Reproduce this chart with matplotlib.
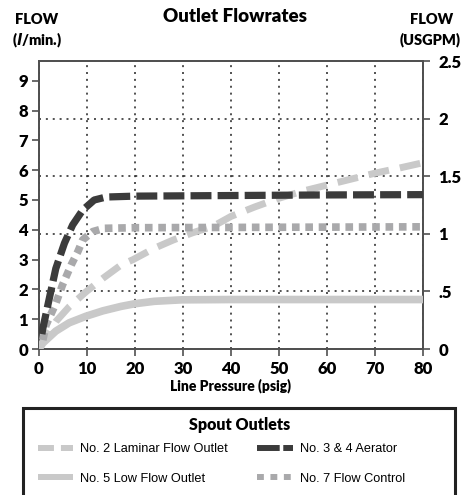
#!/usr/bin/env python
"""Outlet flowrates chart: flow vs line pressure for four spout outlets."""
import matplotlib

matplotlib.use("Agg")
import matplotlib.pyplot as plt
from matplotlib.lines import Line2D
from matplotlib.patches import Rectangle

# --- data ---
lam_psi = [0, 0.8, 3.5, 6.3, 9.8, 13.3, 17.1, 19.6, 24, 28, 32, 36.3, 40, 45, 50, 55, 60, 65, 70, 75, 80]
lam_flow = [0, 0.25, 0.92, 1.42, 1.92, 2.37, 2.82, 3.0, 3.38, 3.66, 3.9, 4.12, 4.45, 4.77, 5.06, 5.3, 5.5, 5.7, 5.9, 6.07, 6.25]

aer_psi = [0.6, 0.8, 2.15, 3.5, 5.3, 7.0, 9.1, 11.5, 14, 20, 40, 60, 80]
aer_flow = [0.5, 0.69, 1.7, 2.7, 3.55, 4.16, 4.66, 5.0, 5.1, 5.13, 5.15, 5.17, 5.18]

low_psi = [0, 0.8, 3.5, 6.3, 9.8, 13.3, 17.1, 20, 24, 29.7, 40, 60, 80]
low_flow = [0, 0.2, 0.6, 0.88, 1.1, 1.28, 1.43, 1.52, 1.6, 1.65, 1.66, 1.66, 1.66]

fc_psi = [0.8, 1.46, 3.5, 4.9, 6.7, 8.1, 9.1, 11.2, 13.6, 20, 40, 60, 80]
fc_flow = [0.3, 0.8, 1.53, 2.15, 2.82, 3.27, 3.66, 3.94, 4.05, 4.07, 4.08, 4.09, 4.1]

lmin_ticks = list(range(0, 10))
gpm_ticks = [0, 0.5, 1, 1.5, 2, 2.5]
gpm_labels = ["0", ".5", "1", "1.5", "2", "2.5"]
psi_ticks = list(range(0, 81, 10))

labels = ["No. 2 Laminar Flow Outlet", "No. 3 & 4 Aerator",
          "No. 5 Low Flow Outlet", "No. 7 Flow Control"]

DARK = "#3b3b3b"
MID = "#a9a9ab"
LIGHT = "#c9c9c9"
SPINE = "#505050"
HEAD = ["Lato", "DejaVu Sans"]
BODY = ["Liberation Sans", "DejaVu Sans"]

W, H = 467, 495
fig = plt.figure(figsize=(W / 100, H / 100), dpi=100)
ax = fig.add_axes([39 / W, 1 - 349 / H, (423 - 39) / W, (349 - 61) / H])
ax2 = ax.twinx()

# curves (left axis, l/min)
ax.plot(low_psi, low_flow, color=LIGHT, lw=5.5, solid_capstyle="butt", zorder=3)
ax.plot(lam_psi, lam_flow, color=LIGHT, lw=5.0, dashes=(3.0, 1.6),
        dash_capstyle="butt", zorder=3)
ax.plot(fc_psi, fc_flow, color=MID, lw=5.5, dashes=(1.0, 0.75),
        dash_capstyle="butt", zorder=4)
ax.plot(aer_psi, aer_flow, color=DARK, lw=5.2, dashes=(2.9, 0.85),
        dash_capstyle="butt", zorder=5)

ax.set_xlim(0, 80)
ax.set_ylim(0, 288 / 29.8)
ax2.set_ylim(0, 2.5)

grid_kw = dict(color="#222222", lw=1.1, linestyle=(0, (1.3, 3.2)))
ax.xaxis.grid(True, **grid_kw)
ax2.yaxis.grid(True, **grid_kw)
ax.set_axisbelow(True)
ax2.set_axisbelow(True)
ax.set_zorder(ax2.get_zorder() + 1)
ax.patch.set_visible(False)

ax.set_xticks(psi_ticks)
ax.set_yticks(lmin_ticks)
ax2.set_yticks(gpm_ticks)
ax2.set_yticklabels(gpm_labels)

for a in (ax, ax2):
    for s in a.spines.values():
        s.set_color(SPINE)
        s.set_linewidth(1.3)
    a.tick_params(length=5, width=1.2, color=SPINE, pad=3)
    for t in a.get_xticklabels() + a.get_yticklabels():
        t.set_family(HEAD)
        t.set_fontweight("heavy")
        t.set_fontsize(12)
ax.tick_params(axis="x", pad=4)
ax2.tick_params(axis="y", pad=6)

ax.set_xlabel("Line Pressure (psig)", family=HEAD, fontweight="heavy",
              fontsize=10, labelpad=1)

fig.text(235 / W, 1 - 17 / H, "Outlet Flowrates", family=HEAD, fontweight="heavy",
         fontsize=13.5, ha="center", va="center")
fig.text(37 / W, 1 - 20 / H, "FLOW", family=HEAD, fontweight="heavy",
         fontsize=10.5, ha="center", va="center")
fig.text(37 / W, 1 - 40 / H, r"($\mathbfit{l}$/min.)", family=HEAD, fontweight="heavy",
         fontsize=10.5, ha="center", va="center")
fig.text(432 / W, 1 - 20 / H, "FLOW", family=HEAD, fontweight="heavy",
         fontsize=10.5, ha="center", va="center")
fig.text(400 / W, 1 - 40 / H, "(USGPM)", family=HEAD, fontweight="heavy",
         fontsize=10.5, ha="left", va="center")

# legend box (runs off the bottom of the figure)
fig.patches.append(Rectangle((23 / W, -0.05), (455 - 23) / W, 0.05 + 1 - 408 / H,
                             transform=fig.transFigure, fill=False,
                             edgecolor="#222222", lw=2.2))
fig.text(240 / W, 1 - 425 / H, "Spout Outlets", family=HEAD, fontweight="heavy",
         fontsize=11.5, ha="center", va="center")
handles = [
    Line2D([], [], color=LIGHT, lw=4.3, dashes=(2.67, 1.17), dash_capstyle="butt"),
    Line2D([], [], color=LIGHT, lw=4.3, solid_capstyle="butt"),
    Line2D([], [], color=DARK, lw=4.3, dashes=(3.8, 0.6), dash_capstyle="butt"),
    Line2D([], [], color=MID, lw=4.3, dashes=(1.15, 1.1), dash_capstyle="butt"),
]
order = [labels[0], labels[2], labels[1], labels[3]]
leg = fig.legend(handles, order, ncol=2, loc="upper left",
                 bbox_to_anchor=(26 / W, 1 - 432 / H), frameon=False,
                 prop=dict(family=BODY, size=9.2),
                 handlelength=2.8, handletextpad=0.55, columnspacing=2.3,
                 labelspacing=1.35)

fig.savefig("out.png", dpi=100)
